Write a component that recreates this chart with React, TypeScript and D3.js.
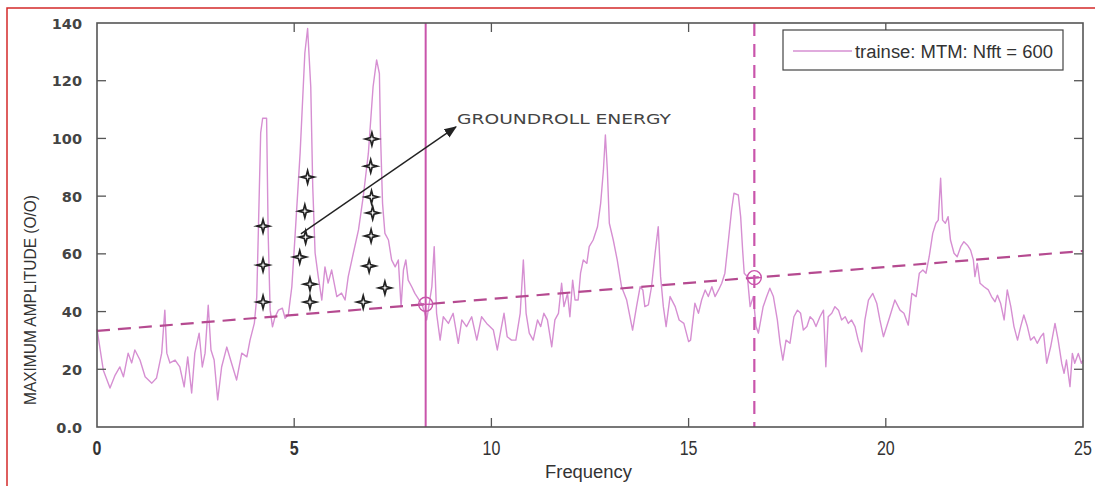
import React from 'react';
import * as d3 from 'd3';

// spectrum: frequency / amplitude
const freqs = [
  0.0, 0.16, 0.33, 0.46, 0.58, 0.67, 0.79, 0.88, 0.96, 1.09, 1.22, 1.39, 1.51, 1.64, 1.72, 1.77, 1.85, 1.98,
  2.1, 2.21, 2.3, 2.4, 2.48, 2.59, 2.67, 2.74, 2.82, 2.89, 2.97, 3.06, 3.16, 3.29, 3.41, 3.54, 3.67, 3.8,
  3.88, 3.99, 4.05, 4.09, 4.15, 4.2, 4.3, 4.34, 4.39, 4.45, 4.51, 4.6, 4.7, 4.77, 4.85, 4.94, 5.02, 5.15,
  5.27, 5.34, 5.42, 5.47, 5.53, 5.61, 5.7, 5.78, 5.86, 5.95, 6.08, 6.2, 6.29, 6.37, 6.5, 6.63, 6.75, 6.88,
  7.0, 7.09, 7.16, 7.19, 7.24, 7.3, 7.39, 7.47, 7.56, 7.64, 7.71, 7.77, 7.83, 7.89, 7.98, 8.06, 8.17, 8.26,
  8.36, 8.49, 8.55, 8.61, 8.7, 8.78, 8.91, 9.03, 9.16, 9.25, 9.37, 9.5, 9.63, 9.75, 9.88, 9.96, 10.05, 10.15,
  10.24, 10.32, 10.4, 10.51, 10.62, 10.73, 10.81, 10.88, 10.96, 11.06, 11.17, 11.25, 11.33, 11.42, 11.53,
  11.61, 11.7, 11.78, 11.84, 11.93, 11.99, 12.06, 12.12, 12.2, 12.26, 12.33, 12.42, 12.48, 12.58, 12.69,
  12.77, 12.84, 12.89, 12.94, 12.99, 13.09, 13.19, 13.3, 13.43, 13.58, 13.68, 13.77, 13.84, 13.89, 13.98,
  14.06, 14.15, 14.23, 14.29, 14.36, 14.43, 14.53, 14.66, 14.76, 14.88, 15.0, 15.05, 15.16, 15.25, 15.33,
  15.42, 15.5, 15.59, 15.67, 15.76, 15.84, 15.92, 16.01, 16.09, 16.15, 16.26, 16.32, 16.37, 16.41, 16.49,
  16.56, 16.64, 16.71, 16.77, 16.83, 16.89, 16.98, 17.06, 17.15, 17.25, 17.32, 17.39, 17.47, 17.57, 17.67,
  17.76, 17.84, 17.91, 18.0, 18.08, 18.16, 18.23, 18.33, 18.42, 18.48, 18.54, 18.63, 18.71, 18.8, 18.88,
  18.97, 19.05, 19.13, 19.22, 19.3, 19.39, 19.47, 19.56, 19.67, 19.77, 19.85, 19.94, 20.1, 20.23, 20.36,
  20.46, 20.57, 20.66, 20.77, 20.85, 20.94, 21.02, 21.1, 21.19, 21.27, 21.33, 21.39, 21.44, 21.51, 21.58,
  21.64, 21.73, 21.81, 21.9, 21.98, 22.07, 22.15, 22.22, 22.26, 22.32, 22.39, 22.49, 22.6, 22.68, 22.77,
  22.83, 22.91, 23.0, 23.08, 23.17, 23.25, 23.34, 23.42, 23.5, 23.59, 23.67, 23.76, 23.84, 23.93, 24.0,
  24.08, 24.18, 24.29, 24.37, 24.46, 24.52, 24.58, 24.67, 24.73, 24.79, 24.88, 24.96, 25.0,
];
const amps = [
  34, 19.7, 13.5, 18, 20.8, 17.4, 25.6, 22.2, 26.7, 23.2, 17.4, 15.2, 17, 25.6, 40.5, 25.6, 22.2, 23.2,
  20.8, 13.9, 24.3, 11.8, 25.6, 32.5, 20.8, 25.6, 42.2, 26.7, 23.2, 9.4, 20.8, 27.7, 22.2, 16.3, 25.6, 24.3,
  30.1, 36, 45, 67.2, 101.9, 107, 107, 67, 40.5, 34.7, 38, 40.5, 41.2, 37.7, 38.8, 48.6, 65.9, 94.9,
  129.6, 138.1, 117.9, 83.3, 60.3, 52.1, 44, 55.5, 49.9, 54.4, 45.2, 46.4, 44, 52.1, 60.3, 68.3, 79.8, 94.8,
  117.9, 127.2, 122.5, 100.6, 77.5, 67.1, 64.8, 57.9, 55.5, 57.9, 41.7, 54.4, 57.9, 50.9, 48.6, 46.3, 44, 41.7,
  37.1, 48.6, 62.5, 39.4, 30.1, 38.2, 35.9, 39.4, 29, 37.1, 34.8, 38.2, 30.1, 38.2, 35.9, 34.8, 33.6, 26.7,
  33.6, 39.4, 31.3, 30.1, 30.1, 39.4, 57.9, 39.4, 32.5, 30.1, 37.1, 34.8, 39.4, 37.1, 27.8,
  37.1, 39.4, 49.8, 41.7, 46.3, 38.2, 50.9, 44, 44, 53.3, 57.9, 56.7, 62.5, 64.8, 69.4,
  77.5, 89, 101.2, 89, 70.6, 64.8, 57.9, 48.6, 44, 33.6, 41.7, 48.6, 47.5, 41.7, 42.3,
  48.6, 60.2, 69.4, 52.1, 41.7, 34.8, 45.2, 41.7, 37.1, 35.9, 29.6, 30.1, 42.9, 39.4, 44,
  47.5, 45.2, 48.6, 45.2, 47.5, 49.8, 53.3, 64.8, 75.2, 81, 80.4, 72.9, 61.3, 53.3, 52.1,
  41.7, 45.2, 34.8, 32.5, 37.1, 41.7, 45.2, 48.1, 45.2, 37.1, 29, 23.2, 30.1, 29, 38.2,
  40.5, 39.4, 33.6, 34.8, 38.2, 37.1, 34.8, 38.2, 40.5, 20.9, 38.2, 39.4, 41.7, 40.5, 37.1,
  38.2, 35.9, 37.1, 34.8, 30.1, 26.1, 37.1, 44, 46.3, 42.9, 37.1, 31.3, 38.2, 44, 40.5,
  39.4, 35.3, 46.3, 45.2, 53.3, 54.4, 53.3, 59, 67.1, 70.6, 71.7, 86.2, 71.7, 70.6, 72.9,
  64.8, 60.2, 59, 62.5, 64.2, 63, 61.3, 57.9, 52.1, 56.7, 49.8, 48.6, 47.5, 45.2, 43.4,
  45.7, 42.9, 37.1, 47.5, 41.7, 34.8, 30.1, 34.8, 38.8, 34.8, 30.1, 31.3, 29, 31.3, 32.5,
  22.1, 27.8, 35.9, 30.1, 22.1, 18.6, 23.2, 14, 25.5, 22.1, 25.5, 22.1, 23.2,
];

// star markers on the groundroll peaks
const starFreqs = [4.21, 4.21, 4.21, 5.34, 5.27, 5.29, 5.14, 5.4, 5.4, 6.97, 6.94, 6.96, 6.99, 6.95, 6.9, 6.75, 7.3];
const starAmps = [69.6, 56.1, 43.3, 86.6, 74.8, 65.8, 58.9, 49.5, 43.3, 99.8, 90.4, 79.7, 74.2, 66.2, 55.8, 43.3, 48.2];

// trend line and cut-off markers
const trendFreqs = [0, 25];
const trendAmps = [33.3, 61];
const cutFreqs = [25 / 3, 50 / 3];
const arrowFrom = [5.17, 66.9];
const arrowTo = [9.1, 104];

const xTicks = [0, 5, 10, 15, 20, 25];
const yTicks = [0, 20, 40, 60, 80, 100, 120, 140];
const yTickLabels = ['0.0', '20', '40', '60', '80', '100', '120', '140'];

const W = 1095;
const H = 486;
const margin = { top: 23, right: 12, bottom: 59, left: 97 };

const lineColor = '#d68fd2';
const dashColor = '#b54a90';
const vColor = '#c955ab';
const axisColor = '#555';

export default function App() {
  const x = d3.scaleLinear().domain([0, 25]).range([margin.left, W - margin.right]);
  const y = d3.scaleLinear().domain([0, 140]).range([H - margin.bottom, margin.top]);

  const pts: [number, number][] = freqs.map((f, i) => [f, amps[i]]);
  const line = d3.line<[number, number]>().x((d) => x(d[0])).y((d) => y(d[1]));

  const trendAt = (f: number) =>
    trendAmps[0] + ((trendAmps[1] - trendAmps[0]) * (f - trendFreqs[0])) / (trendFreqs[1] - trendFreqs[0]);

  // four pointed star
  const starPath = (cx: number, cy: number) => {
    const r = 6.5, ri = 1.9;
    let p = '';
    for (let k = 0; k < 8; k++) {
      const a = (Math.PI / 4) * k - Math.PI / 2;
      const rr = k % 2 === 0 ? r : ri;
      p += (k === 0 ? 'M' : 'L') + (cx + rr * Math.cos(a)).toFixed(2) + ',' + (cy + rr * Math.sin(a)).toFixed(2);
    }
    return p + 'Z';
  };

  const x0 = x(0), x1 = x(25), y0 = y(0), y1 = y(140);
  const tl = 9;
  const sq = (cx: number, s: number) => `translate(${cx},0) scale(${s},1) translate(${-cx},0)`;

  return (
    <svg width={W} height={H} style={{ position: 'absolute', left: 0, top: 0, background: '#fff' }}
      fontFamily="'Liberation Sans', Arial, sans-serif">
      <defs>
        <marker id="ah" viewBox="0 0 10 10" refX="9" refY="5" markerWidth="9" markerHeight="9" orient="auto">
          <path d="M0,1 L10,5 L0,9 Z" fill="#222" />
        </marker>
      </defs>

      {/* red frame of the scan */}
      <rect x={7} y={8} width={W + 20} height={H + 20} fill="none" stroke="#d42a2a" strokeWidth={1.5} />

      {/* spectrum */}
      <path d={line(pts) ?? ''} fill="none" stroke={lineColor} strokeWidth={1.4} strokeLinejoin="round" />

      {/* trend line */}
      <line x1={x(trendFreqs[0])} y1={y(trendAmps[0])} x2={x(trendFreqs[1])} y2={y(trendAmps[1])}
        stroke={dashColor} strokeWidth={2.2} strokeDasharray="13,8" />

      {/* cut-off lines */}
      <line x1={x(cutFreqs[0])} x2={x(cutFreqs[0])} y1={y1} y2={y0} stroke={vColor} strokeWidth={2} />
      <line x1={x(cutFreqs[1])} x2={x(cutFreqs[1])} y1={y1} y2={y0} stroke={vColor} strokeWidth={2.2} strokeDasharray="13,8" />
      {cutFreqs.map((f, i) => {
        const cx = x(f), cy = y(trendAt(f));
        return (
          <g key={i} stroke={vColor} strokeWidth={1.4} fill="none">
            <circle cx={cx} cy={cy} r={7} />
            <line x1={cx - 7} x2={cx + 7} y1={cy} y2={cy} />
          </g>
        );
      })}

      {/* stars */}
      {starFreqs.map((f, i) => (
        <path key={i} d={starPath(x(f), y(starAmps[i]))} fill="#fff" stroke="#222" strokeWidth={1.7} strokeLinejoin="miter" />
      ))}

      {/* arrow + note */}
      <line x1={x(arrowFrom[0])} y1={y(arrowFrom[1])} x2={x(arrowTo[0])} y2={y(arrowTo[1])}
        stroke="#222" strokeWidth={1.4} markerEnd="url(#ah)" />
      <text x={457} y={124} fontSize={13.5} fill="#444" fontFamily="'DejaVu Sans', sans-serif" textLength={214} lengthAdjust="spacingAndGlyphs">GROUNDROLL ENERGY</text>

      {/* axes box */}
      <rect x={x0} y={y1} width={x1 - x0} height={y0 - y1} fill="none" stroke={axisColor} strokeWidth={1.6} />
      {xTicks.slice(1, -1).map((t) => (
        <g key={t} stroke={axisColor} strokeWidth={1.3}>
          <line x1={x(t)} x2={x(t)} y1={y0} y2={y0 - tl} />
          <line x1={x(t)} x2={x(t)} y1={y1} y2={y1 + tl} />
        </g>
      ))}
      {yTicks.slice(1, -1).map((t) => (
        <g key={t} stroke={axisColor} strokeWidth={1.3}>
          <line x1={x0} x2={x0 + tl} y1={y(t)} y2={y(t)} />
          <line x1={x1} x2={x1 - tl} y1={y(t)} y2={y(t)} />
        </g>
      ))}
      {xTicks.map((t) => (
        <text key={t} x={x(t)} y={455} textAnchor="middle" fontSize={20} fill="#333"
          fontWeight={t < 10 ? 'bold' : 'normal'} transform={sq(x(t), 0.8)}>{t}</text>
      ))}
      {yTicks.map((t, i) => (
        <text key={t} x={82} y={y(t) + 5.5} textAnchor="end" fontSize={14.5} fontWeight="bold" fill="#444"
          fontFamily="'DejaVu Sans', sans-serif">{yTickLabels[i]}</text>
      ))}
      <text x={545} y={478} fontSize={18} fill="#333" textLength={87} lengthAdjust="spacingAndGlyphs">Frequency</text>
      <text transform="translate(36,300) rotate(-90)" textAnchor="middle" fontSize={16} fill="#333"
        textLength={210} lengthAdjust="spacingAndGlyphs">MAXIMUM AMPLITUDE (O/O)</text>

      {/* legend */}
      <rect x={783} y={30} width={280} height={40} fill="#fff" stroke="#444" strokeWidth={1.2} />
      <line x1={793} x2={852} y1={51} y2={51} stroke={lineColor} strokeWidth={1.5} />
      <text x={855} y={57.5} fontSize={18} fill="#333" textLength={198} lengthAdjust="spacingAndGlyphs">trainse: MTM: Nfft = 600</text>
    </svg>
  );
}
